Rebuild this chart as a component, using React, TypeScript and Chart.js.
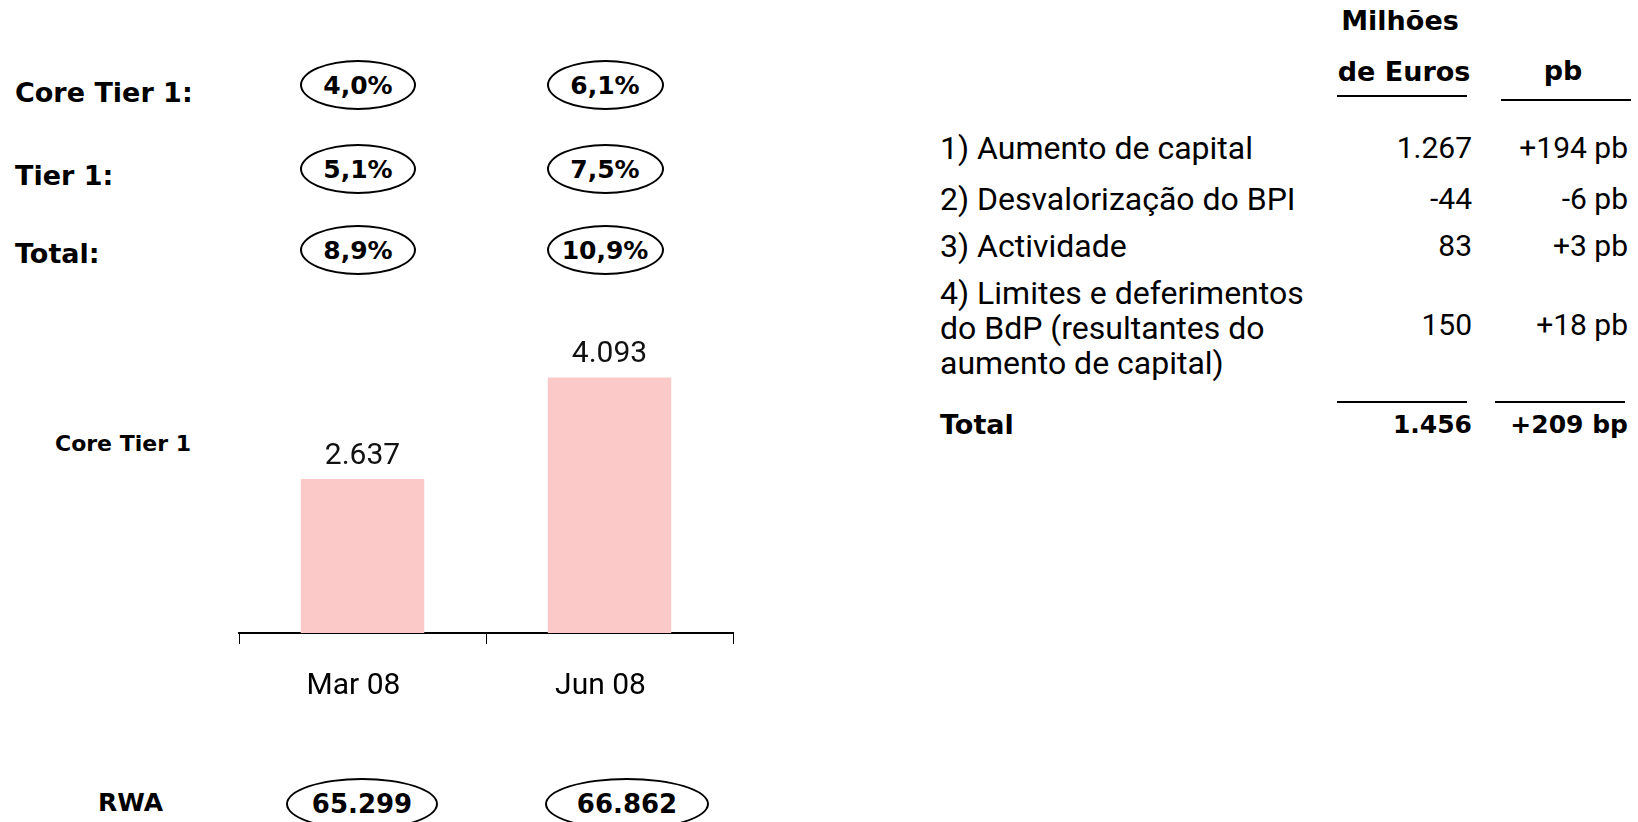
import React, { useEffect, useRef } from "react";
import { Chart, registerables } from "chart.js";

Chart.register(...registerables);

// ---------- data ----------
const categories = ["Mar 08", "Jun 08"];
const coreTier1Values = [2637, 4093];
const ratioRowLabels = ["Core Tier 1:", "Tier 1:", "Total:"];
const ratiosMar08 = ["4,0%", "5,1%", "8,9%"];
const ratiosJun08 = ["6,1%", "7,5%", "10,9%"];
const rwaValues = ["65.299", "66.862"];
const tableHeaderMillions = ["Milhões", "de Euros"];
const tableHeaderPb = "pb";
const tableItems = [
  ["1) Aumento de capital"],
  ["2) Desvalorização do BPI"],
  ["3) Actividade"],
  ["4) Limites e deferimentos", "do BdP (resultantes do", "aumento de capital)"],
];
const tableMillions = ["1.267", "-44", "83", "150"];
const tablePb = ["+194 pb", "-6 pb", "+3 pb", "+18 pb"];
const totalLabel = "Total";
const totalMillions = "1.456";
const totalPb = "+209 bp";
const yAxisMin = 431;
const yAxisMax = 4772;

// ---------- styles ----------
const BOLD = "'DejaVu Sans', sans-serif";
const REG = "Roboto, 'Noto Sans', sans-serif";
const BAR_COLOR = "#FCC9C9";

const fmt = (v: number) => String(v).replace(/\B(?=(\d{3})+(?!\d))/g, ".");

type TxtProps = {
  x: number;
  y: number;
  align: "left" | "center" | "right";
  family: string;
  size: number;
  weight?: number;
  children: React.ReactNode;
};

function Txt({ x, y, align, family, size, weight = 400, children }: TxtProps) {
  const style: React.CSSProperties = {
    position: "absolute",
    top: y,
    fontFamily: family,
    fontSize: size,
    fontWeight: weight,
    lineHeight: `${size}px`,
    whiteSpace: "nowrap",
    color: "#000",
    transform: "translateY(-50%)",
  };
  if (align === "left") style.left = x;
  else if (align === "right") style.right = 1638 - x;
  else {
    style.left = x;
    style.transform = "translate(-50%,-50%)";
  }
  return <div style={style}>{children}</div>;
}

function Oval({ cx, cy, w, h, size, children }: { cx: number; cy: number; w: number; h: number; size: number; children: React.ReactNode }) {
  return (
    <div
      style={{
        position: "absolute",
        left: cx - w / 2,
        top: cy - h / 2,
        width: w,
        height: h,
        boxSizing: "border-box",
        border: "2px solid #000",
        borderRadius: "50%",
        display: "flex",
        alignItems: "center",
        justifyContent: "center",
        fontFamily: BOLD,
        fontWeight: 700,
        fontSize: size,
        lineHeight: `${size}px`,
        whiteSpace: "nowrap",
      }}
    >
      {children}
    </div>
  );
}

const barLabelPlugin = {
  id: "barLabels",
  afterDatasetsDraw(chart: any) {
    const ctx = chart.ctx;
    const meta = chart.getDatasetMeta(0);
    ctx.save();
    ctx.font = `400 30px ${REG}`;
    ctx.fillStyle = "#111";
    ctx.textAlign = "center";
    ctx.textBaseline = "middle";
    meta.data.forEach((bar: any, i: number) => {
      const v = chart.data.datasets[0].data[i] as number;
      ctx.fillText(fmt(v), bar.x, bar.y - 23);
    });
    ctx.restore();
  },
};

function BarChart() {
  const ref = useRef<HTMLCanvasElement | null>(null);
  useEffect(() => {
    if (!ref.current) return;
    const chart = new Chart(ref.current, {
      type: "bar",
      data: {
        labels: categories,
        datasets: [
          {
            data: coreTier1Values,
            backgroundColor: BAR_COLOR,
            borderWidth: 0,
            barPercentage: 0.5,
            categoryPercentage: 1,
          },
        ],
      },
      options: {
        animation: false,
        responsive: true,
        maintainAspectRatio: false,
        layout: { padding: { left: 39, right: 27, top: 30, bottom: 12 } },
        plugins: { legend: { display: false }, tooltip: { enabled: false } },
        scales: {
          x: {
            offset: true,
            grid: {
              offset: true,
              drawOnChartArea: false,
              drawTicks: true,
              tickLength: 11,
              color: "#000",
              lineWidth: 1,
            },
            border: { display: true, color: "#000", width: 2 },
            ticks: {
              color: "#000",
              padding: 24,
              labelOffset: -9,
              font: { family: REG, size: 30, lineHeight: 1.2 },
              maxRotation: 0,
            },
          },
          y: {
            display: false,
            min: yAxisMin,
            max: yAxisMax,
          },
        },
      },
      plugins: [barLabelPlugin],
    });
    return () => chart.destroy();
  }, []);
  return (
    <div style={{ position: "absolute", left: 200, top: 300, width: 560, height: 440 }}>
      <canvas ref={ref} />
    </div>
  );
}

// ---------- layout ----------
const RATIO_LABEL_Y = [92, 175, 253];
const RATIO_OVAL_Y = [85, 169, 250];
const COL_X = [358, 605];
const TABLE_ROW_Y = [148, 199, 246];
const ROW4_LINE_Y = [293, 328, 363];
const ROW4_VALUE_Y = 325;
const NUM_RIGHT = 1472;
const PB_RIGHT = 1628;

export default function App() {
  return (
    <div
      style={{
        position: "absolute",
        left: 0,
        top: 0,
        width: 1638,
        height: 822,
        overflow: "hidden",
        background: "#fff",
      }}
    >
      {ratioRowLabels.map((l, i) => (
        <Txt key={l} x={15} y={RATIO_LABEL_Y[i]} align="left" family={BOLD} size={27} weight={700}>
          {l}
        </Txt>
      ))}
      {ratiosMar08.map((r, i) => (
        <Oval key={"m" + i} cx={COL_X[0]} cy={RATIO_OVAL_Y[i]} w={116} h={50} size={25}>
          {r}
        </Oval>
      ))}
      {ratiosJun08.map((r, i) => (
        <Oval key={"j" + i} cx={COL_X[1]} cy={RATIO_OVAL_Y[i]} w={117} h={50} size={25}>
          {r}
        </Oval>
      ))}

      <Txt x={55} y={444} align="left" family={BOLD} size={22} weight={700}>
        Core Tier 1
      </Txt>

      <BarChart />

      <Txt x={98} y={802} align="left" family={BOLD} size={25} weight={700}>
        RWA
      </Txt>
      <Oval cx={362} cy={804} w={152} h={52} size={26}>
        {rwaValues[0]}
      </Oval>
      <Oval cx={627} cy={804} w={164} h={52} size={26}>
        {rwaValues[1]}
      </Oval>

      {/* table header */}
      <Txt x={1400} y={20} align="center" family={BOLD} size={27} weight={700}>
        {tableHeaderMillions[0]}
      </Txt>
      <Txt x={1404} y={71} align="center" family={BOLD} size={27} weight={700}>
        {tableHeaderMillions[1]}
      </Txt>
      <Txt x={1563} y={70} align="center" family={BOLD} size={27} weight={700}>
        {tableHeaderPb}
      </Txt>
      <div style={{ position: "absolute", left: 1337, top: 95, width: 130, height: 2, background: "#000" }} />
      <div style={{ position: "absolute", left: 1501, top: 99, width: 130, height: 2, background: "#000" }} />

      {/* table rows */}
      {tableItems.slice(0, 3).map((lines, i) => (
        <React.Fragment key={i}>
          <Txt x={940} y={TABLE_ROW_Y[i]} align="left" family={REG} size={32}>
            {lines[0]}
          </Txt>
          <Txt x={NUM_RIGHT} y={TABLE_ROW_Y[i]} align="right" family={REG} size={30}>
            {tableMillions[i]}
          </Txt>
          <Txt x={PB_RIGHT} y={TABLE_ROW_Y[i]} align="right" family={REG} size={30}>
            {tablePb[i]}
          </Txt>
        </React.Fragment>
      ))}
      {tableItems[3].map((line, j) => (
        <Txt key={"r4" + j} x={940} y={ROW4_LINE_Y[j]} align="left" family={REG} size={32}>
          {line}
        </Txt>
      ))}
      <Txt x={NUM_RIGHT} y={ROW4_VALUE_Y} align="right" family={REG} size={30}>
        {tableMillions[3]}
      </Txt>
      <Txt x={PB_RIGHT} y={ROW4_VALUE_Y} align="right" family={REG} size={30}>
        {tablePb[3]}
      </Txt>

      <div style={{ position: "absolute", left: 1337, top: 401, width: 130, height: 2, background: "#000" }} />
      <div style={{ position: "absolute", left: 1495, top: 401, width: 130, height: 2, background: "#000" }} />

      <Txt x={940} y={424} align="left" family={BOLD} size={27} weight={700}>
        {totalLabel}
      </Txt>
      <Txt x={NUM_RIGHT} y={424} align="right" family={BOLD} size={25} weight={700}>
        {totalMillions}
      </Txt>
      <Txt x={PB_RIGHT} y={424} align="right" family={BOLD} size={25} weight={700}>
        {totalPb}
      </Txt>
    </div>
  );
}
